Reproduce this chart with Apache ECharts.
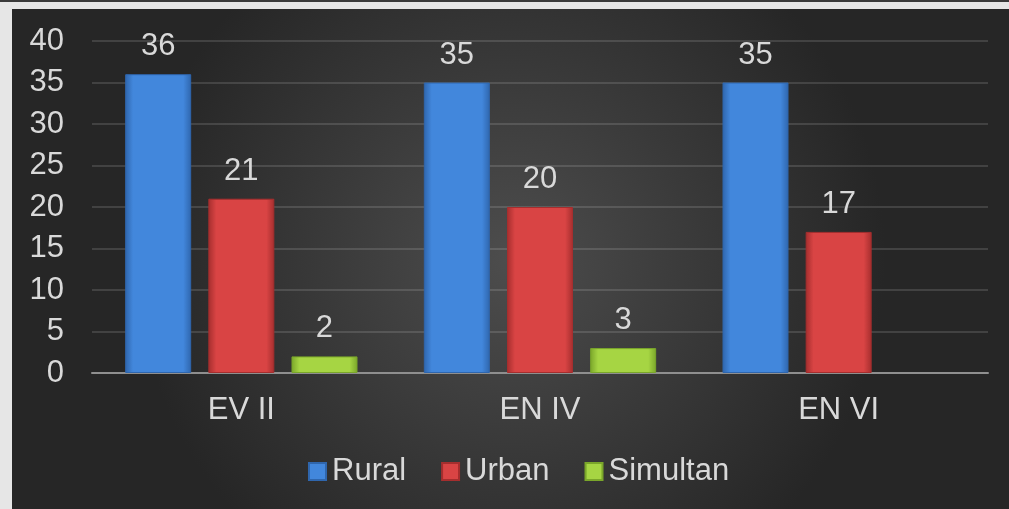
<!DOCTYPE html>
<html>
<head>
<meta charset="utf-8">
<script src="https://cdn.jsdelivr.net/npm/echarts@6/dist/echarts.min.js"></script>
<style>
  html, body { margin: 0; padding: 0; background: #e6e6e6; }
  #topline { position: absolute; left: 0; top: 0; width: 1009px; height: 2px; background: #3a3a3a; }
  #chart { position: absolute; left: 12px; top: 9px; width: 997px; height: 500px; }
</style>
</head>
<body>
<div id="topline"></div>
<div id="chart"></div>
<script>
// data
const categories = ['EV II', 'EN IV', 'EN VI']
const seriesNames = ['Rural', 'Urban', 'Simultan']
const rural = [36, 35, 35]
const urban = [21, 20, 17]
const simultan = [2, 3, null]
const yTicks = [0, 5, 10, 15, 20, 25, 30, 35, 40]

const font = 'Liberation Sans, Arial, sans-serif'
const textColor = '#d9d9d9'
const fontSize = 31

// bar colours: edge / middle, gives a bit of the bevel look
const palette = [
  { edge: '#2f66ad', mid: '#4287dc', legend: '#3d7fd3' },
  { edge: '#a52e2e', mid: '#d94444', legend: '#d03f3f' },
  { edge: '#7aa62a', mid: '#a6d543', legend: '#9acb3b' }
]

function barColor(p) {
  return new echarts.graphic.LinearGradient(0, 0, 1, 0, [
    { offset: 0, color: p.edge },
    { offset: 0.12, color: p.mid },
    { offset: 0.88, color: p.mid },
    { offset: 1, color: p.edge }
  ])
}

const values = [rural, urban, simultan]

const chart = echarts.init(document.getElementById('chart'))

const series = seriesNames.map((name, i) => ({
  name: name,
  type: 'bar',
  data: values[i],
  barWidth: 66,
  barGap: '26%',
  itemStyle: {
    color: barColor(palette[i]),
    borderColor: palette[i].edge,
    borderWidth: 1
  },
  label: {
    show: true,
    position: 'top',
    distance: 12,
    color: textColor,
    fontSize: fontSize,
    fontFamily: font
  }
}))

chart.setOption({
  backgroundColor: new echarts.graphic.RadialGradient(0.5, 0.5, 0.75, [
    { offset: 0, color: '#4d4d4d' },
    { offset: 1, color: '#262626' }
  ]),
  color: palette.map(p => p.legend),
  grid: { left: 80, right: 21, top: 32, bottom: 136 },
  legend: {
    data: seriesNames,
    bottom: 17,
    left: 291,
    icon: 'rect',
    itemWidth: 17,
    itemHeight: 17,
    itemGap: 35,
    textStyle: { color: textColor, fontSize: fontSize, fontFamily: font, padding: [0, 0, 0, 1] }
  },
  xAxis: {
    type: 'category',
    data: categories,
    axisLine: { lineStyle: { color: '#8f8f8f', width: 2 } },
    axisTick: { show: false },
    axisLabel: { color: textColor, fontSize: fontSize, fontFamily: font, margin: 22 }
  },
  yAxis: {
    type: 'value',
    min: yTicks[0],
    max: yTicks[yTicks.length - 1],
    interval: 5,
    axisLine: { show: false },
    axisTick: { show: false },
    axisLabel: { color: textColor, fontSize: fontSize, fontFamily: font, margin: 28 },
    splitLine: { lineStyle: { color: 'rgba(255,255,255,0.13)', width: 2 } }
  },
  series: series
})
</script>
</body>
</html>
